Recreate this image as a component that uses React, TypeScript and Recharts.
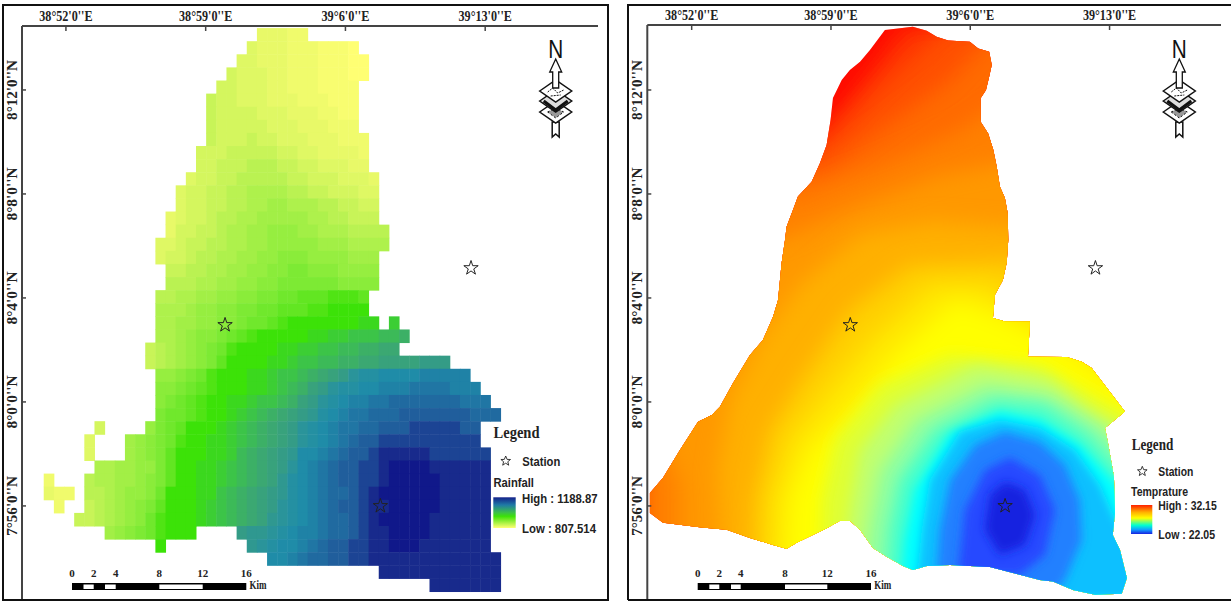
import { ScatterChart, Scatter, XAxis, YAxis, ZAxis } from "recharts";

const lonTicks = [0, 7, 14, 21];
const lonLabels = ["38°52'0''E", "38°59'0''E", "39°6'0''E", "39°13'0''E"];
const latTicks = [0, 4, 8, 12, 16];
const latLabels = ["7°56'0''N", "8°0'0''N", "8°4'0''N", "8°8'0''N", "8°12'0''N"];

// minutes past 38°52' E and 7°56' N
const stations = [
  { lon: 7.97, lat: 6.96 },
  { lon: 20.29, lat: 9.15 },
  { lon: 15.75, lat: 0 },
];

// rainfall raster, one character per cell (0 = low .. z = high), "." = no data
const rainfallRows = [
  ".....................33322",
  "....................43332221110",
  "...................4433322211100",
  "..................54443322211100",
  ".................55444332221111",
  "................655444333222111",
  "................655554443332211",
  "................655555444333222",
  "................6555655444333222",
  "...............55566666554433332",
  "...............55666777665544433",
  "..............4556677777665554443",
  ".............45566778888776655544",
  ".............45566778899888776655",
  "............345567788999998877666",
  "............3556678899aaa998887777",
  "...........44566778899aaaaa9998888",
  "...........4556778899aabbbaaaa999",
  "............66778899aabbccbbbaaaa",
  "............7778899aabbccccccbbbb",
  "...........778899aabbccddeeefffe",
  "...........8889aabbccddeeeffgggg",
  "...........8899aabbcddefggggggghh.i",
  "...........889abbcdefggggghhiijjjkkl",
  "..........6789abcdfgggghhiijjkkllmm",
  "..........6789abcegggghhijjkkllmmnnnnooo",
  "...........aabcdfggghhijjklmnoqrrssssttttt",
  "...........bbcdefggghhijklnoqrrsstttuuuuttt",
  "...........bcdefgghhijjklnoqrsttuuvvvvvvvuuu",
  "...........cddefgghijklmnoprstuuvvvwwwwwwwvvv",
  ".....5....acdeggghijklmnoqrstuuvvwwwxxxxxww",
  "....4...9abcdfgghhijklmnoqrstuvwwxxxxxxxxxx",
  "....4...9abceggghhiklmnopsstuvwwxyyyyyxxxxxx",
  ".....8899aacegghhijklmnoqstuvwwxxyzzzzyyyyyy",
  "2...78899abcegghhijklmnprstuvwwxxyzzzzzyyyyy",
  "322.7789aabdggghhjklmnoprstuvvwxyzzzzzzyyyyy",
  ".2..6789abceggghijklmnoqrstuvwwxyyzzzzzyyyyy",
  "...66789abdfggghijklmnpqrstuvvwxyzzzzzyyyyyy",
  "......9abcdfggg....oppqrsttuvvwxyyzzzzyyyyyy",
  "...........g........pqrsstuvwwxxyyzzzyyyyyyy",
  "......................sstuvvwwxxyyyyyyyyyyyyy",
  ".................................yyyyyyyyyyyy",
  "......................................yyyyyyy",
];

const rainfallRamp = [
  "#ffff73", "#f8fd70", "#f0fb6c", "#e8f968", "#dff864", "#d4f65e", "#c8f458", "#baf252", "#aef14c",
  "#a2ef46", "#96ee40", "#8aec3a", "#7dea34", "#70e82c", "#62e622", "#50e414", "#3ce208", "#3bd81e",
  "#3cce34", "#3cc448", "#3cba58", "#3cb066", "#3ba872", "#38a27c", "#349c86", "#2f9890", "#2a949a",
  "#2490a2", "#1f8ca8", "#1f82a6", "#2076a4", "#206aa0", "#205e9c", "#1c4494", "#182a8c", "#10188a",
];

// temperature surface: study area outline and nested isotherm regions
const outline = [
  [9.71, 18.31], [11.11, 18.43], [11.81, 18.28], [12.31, 18.05], [12.89, 17.9], [13.98, 17.86], [14.4, 17.6],
  [14.95, 17.47], [15.08, 16.96], [14.95, 16.51], [14.79, 16.0], [14.52, 15.68], [14.52, 14.78], [14.9, 14.33],
  [15.16, 13.69], [15.33, 13.05], [15.49, 12.28], [15.74, 11.85], [15.88, 11.26], [15.91, 10.23], [15.83, 9.35],
  [15.64, 8.69], [15.24, 8.12], [15.14, 7.23], [15.74, 7.09], [17.0, 7.09], [16.9, 5.74], [18.84, 5.73],
  [19.6, 5.55], [20.1, 5.31], [21.77, 3.63], [20.77, 3.0], [20.92, 2.42], [21.22, 1.12], [21.27, -0.27],
  [21.16, -1.12], [21.52, -1.69], [21.87, -2.77], [21.61, -3.38], [20.27, -3.42], [19.16, -3.23], [18.16, -2.91],
  [17.5, -2.85], [14.99, -2.35], [12.98, -2.27], [11.81, -2.31], [11.12, -2.46], [10.62, -2.31], [9.8, -1.95],
  [9.11, -1.62], [8.46, -0.92], [7.95, -0.57], [7.45, -0.57], [6.78, -0.86], [5.28, -1.42], [4.77, -1.65],
  [4.09, -1.5], [2.93, -1.23], [1.76, -0.92], [0.5, -0.83], [-1.44, -0.65], [-2.1, -0.27], [-2.1, 0.5],
  [-1.44, 1.08], [-0.59, 2.15], [0.32, 3.24], [1.01, 3.5], [1.42, 3.82], [2.08, 4.73], [2.93, 5.81],
  [3.58, 6.38], [4.09, 7.28], [4.34, 7.92], [4.52, 9.35], [4.69, 10.23], [4.77, 10.74], [5.09, 11.38],
  [5.34, 11.9], [6.03, 12.47], [6.45, 13.19], [6.78, 13.88], [6.98, 14.85], [7.1, 15.69], [7.54, 16.38],
  [7.95, 16.77], [8.46, 17.09], [8.96, 17.54],
];

const isothermColors = [
  "#ff3000", "#ff5000", "#ff6a00", "#ff8000", "#ff9800", "#ffb000", "#ffd000", "#ffe800", "#ffff00",
  "#e0ff30", "#c0ff70", "#90ffa0", "#40ffd0", "#00ffff", "#10c0ff", "#2080ff", "#2848ff", "#1820e0",
];

const isotherms = [
  [[5.44, 13.69], [7.45, 15.23], [9.21, 16.96], [10.72, 18.5], [26.6, 18.5], [26.6, -3.58], [-2.23, -3.58], [-2.23, 13.69]],
  [[4.44, 12.92], [7.05, 14.08], [8.96, 15.62], [11.47, 17.54], [12.98, 18.5], [26.6, 18.5], [26.6, -3.58], [-2.23, -3.58], [-2.23, 12.92]],
  [[6.7, 12.92], [9.46, 14.46], [12.98, 16.38], [15.49, 18.5], [26.6, 18.5], [26.6, -3.58], [-2.23, -3.58], [-2.23, 12.92]],
  [[5.44, 11.96], [9.46, 13.12], [13.48, 14.46], [16.5, 16.0], [26.6, 16.0], [26.6, -3.58], [-2.23, -3.58], [-2.23, 11.96]],
  [[-0.59, -3.58], [-0.59, 0.8], [-1.49, 2.54], [-2.23, 4.08], [-2.23, 10.15], [4.44, 10.23], [8.46, 11.58], [12.48, 12.73], [16.5, 13.31], [26.6, 13.31], [26.6, -3.58]],
  [[1.67, -3.58], [1.32, 1.38], [1.92, 4.08], [3.43, 6.38], [5.44, 8.5], [8.46, 10.42], [11.97, 10.92], [16.5, 10.69], [26.6, 10.69], [26.6, -3.58]],
  [[3.03, -3.58], [3.18, 0.23], [3.93, 2.92], [5.69, 5.04], [7.95, 7.54], [10.97, 9.27], [15.49, 9.38], [26.6, 9.38], [26.6, -3.58]],
  [[3.93, -3.58], [4.04, 0.23], [4.94, 2.54], [6.7, 4.27], [8.96, 6.38], [11.97, 8.5], [14.99, 8.5], [17, 7.15], [26.6, 6.38], [26.6, -3.58]],
  [[4.69, -3.58], [4.94, 0.23], [5.94, 2.15], [7.95, 3.69], [10.11, 5.73], [13.23, 7.92], [15.49, 7.35], [18.5, 6.19], [21.02, 4.85], [26.6, 3.0], [26.6, -3.58]],
  [[6.44, -3.58], [6.54, 0.23], [7.2, 2.54], [9.46, 4.65], [13.0, 5.8], [17.5, 5.4], [20.52, 4.08], [26.6, 1.5], [26.6, -3.58]],
  [[7.6, -3.58], [7.95, -0.15], [8.46, 2.15], [10.22, 3.88], [14.24, 5.42], [17.9, 4.92], [20.2, 3.5], [26.6, 0.5], [26.6, -3.58]],
  [[8.46, -3.58], [8.96, -0.54], [9.46, 1.38], [11.22, 3.31], [14.74, 4.65], [18, 4.27], [20.52, 3.12], [26.6, -0.5], [26.6, -3.58]],
  [[9.71, -3.58], [9.96, -0.92], [10.47, 1.0], [12.22, 2.92], [15.24, 4.08], [17.75, 3.88], [20.0, 2.73], [21.77, 1.19], [26.6, -1.0], [26.6, -3.58]],
  [[10.47, -3.58], [10.72, -1.31], [11.22, 0.62], [12.98, 2.81], [15.49, 3.62], [17.5, 3.31], [19.5, 2.35], [21.27, 0.88], [26.6, -1.5], [26.6, -3.58]],
  [[11.22, -3.58], [11.57, -0.92], [11.97, 1.0], [13.48, 2.85], [15.49, 3.31], [17.5, 3.0], [19.26, 2.15], [20.52, 0.81], [21.3, -0.54], [26.6, -3.0], [26.6, -3.58]],
  [[12.22, -3.58], [12.47, -0.92], [12.98, 1.0], [14.24, 2.35], [15.74, 2.85], [17.5, 2.46], [18.76, 1.58], [19.5, 0.23], [19.6, -1.31], [18.76, -2.85], [18.0, -3.58]],
  [[13.38, -2.65], [13.73, -0.15], [14.74, 1.38], [16.0, 1.85], [17.5, 1.19], [18.25, -0.15], [17.75, -1.88], [16.5, -2.65]],
  [[14.74, -0.92], [14.99, 0.42], [15.74, 0.92], [16.75, 0.62], [17.25, -0.35], [16.75, -1.5], [15.49, -1.88]],
];

const CELL_LON = 0.5085;
const CELL_LAT = 0.504;
const CELL_ORIGIN_LON = -1.1;
const CELL_ORIGIN_LAT = 18.37;
const CELL_W = 10.15;
const CELL_H = 13.1;

const rainfallCells = rainfallRows.flatMap((row, r) =>
  row.split("").flatMap((ch, c) =>
    ch === "."
      ? []
      : [{
          lon: CELL_ORIGIN_LON + (c + 0.5) * CELL_LON,
          lat: CELL_ORIGIN_LAT - (r + 0.5) * CELL_LAT,
          level: parseInt(ch, 36),
        }],
  ),
);

const toPoints = (ring: number[][]) => ring.map(([lon, lat]) => ({ lon, lat }));
const pathOf = (points: { x: number; y: number }[]) =>
  "M" + points.map((p) => `${p.x},${p.y}`).join("L") + "Z";

const SERIF = "'Liberation Serif', serif";
const SANS = "'Liberation Sans', sans-serif";
const FRAME = "#444";

function TopTick({ x, y, payload }: any) {
  const label = lonLabels[lonTicks.indexOf(payload.value)];
  return (
    <g>
      <line x1={x} x2={x} y1={y} y2={y + 5} stroke={FRAME} strokeWidth={1.5} />
      <text x={x} y={y - 5.5} textAnchor="middle" fontFamily={SERIF} fontWeight="bold" fontSize={15} fill="#222"
        textLength={label.length * 5.33} lengthAdjust="spacingAndGlyphs">
        {label}
      </text>
    </g>
  );
}

function LeftTick({ x, y, payload }: any) {
  const label = latLabels[latTicks.indexOf(payload.value)];
  return (
    <g>
      <line x1={x} x2={x + 4} y1={y} y2={y} stroke={FRAME} strokeWidth={1.5} />
      <text x={x - 5} y={y} transform={`rotate(-90 ${x - 5} ${y})`} textAnchor="middle" fontFamily={SERIF}
        fontWeight="bold" fontSize={14.5} fill="#222" textLength={label.length * 6.65} lengthAdjust="spacingAndGlyphs">
        {label}
      </text>
    </g>
  );
}

const BottomTick = ({ x, y }: any) => <line x1={x} x2={x} y1={y} y2={y - 5} stroke={FRAME} strokeWidth={1.5} />;
const RightTick = ({ x, y }: any) => <line x1={x} x2={x - 5} y1={y} y2={y} stroke={FRAME} strokeWidth={1.5} />;

function RainCell({ cx, cy, payload }: any) {
  return (
    <rect x={cx - CELL_W / 2 - 0.25} y={cy - CELL_H / 2 - 0.25} width={CELL_W + 0.5} height={CELL_H + 0.5}
      fill={rainfallRamp[payload.level]} />
  );
}

const noShape = () => null;

function mapAxes(lonDomain: number[], latDomain: number[], topHeight: number, leftWidth: number) {
  const common = { type: "number" as const, interval: 0 as const, allowDataOverflow: true, tickLine: false, tickSize: 0, tickMargin: 0 };
  return (
    <>
      <XAxis xAxisId="top" orientation="top" dataKey="lon" domain={lonDomain} ticks={lonTicks} height={topHeight}
        tick={TopTick} axisLine={{ stroke: FRAME, strokeWidth: 2 }} {...common} />
      <XAxis xAxisId="bottom" orientation="bottom" dataKey="lon" domain={lonDomain} ticks={lonTicks} height={0}
        tick={BottomTick} axisLine={{ stroke: "#222", strokeWidth: 2 }} {...common} />
      <YAxis yAxisId="left" orientation="left" dataKey="lat" domain={latDomain} ticks={latTicks} width={leftWidth}
        tick={LeftTick} axisLine={{ stroke: FRAME, strokeWidth: 2 }} {...common} />
      <YAxis yAxisId="right" orientation="right" dataKey="lat" domain={latDomain} ticks={latTicks} width={0}
        tick={RightTick} axisLine={{ stroke: "#777", strokeWidth: 2 }} {...common} />
      <ZAxis range={[48, 48]} />
      <Scatter xAxisId="bottom" yAxisId="right" data={[]} shape={noShape} isAnimationActive={false} />
    </>
  );
}

const stationSeries = (
  <Scatter xAxisId="top" yAxisId="left" data={stations} shape="star" fill="none" stroke="#222" strokeWidth={1}
    isAnimationActive={false} />
);

function ScaleBar({ xs, labels, kimX }: { xs: number[]; labels: string[]; kimX: number }) {
  return (
    <g>
      <rect x={xs[0]} y={583} width={xs[7] - xs[0]} height={7} fill="#000" />
      <rect x={xs[1]} y={584.5} width={xs[2] - xs[1]} height={4.5} fill="#fff" />
      <rect x={xs[3]} y={584.5} width={xs[4] - xs[3]} height={4.5} fill="#fff" />
      <rect x={xs[5]} y={584.5} width={xs[6] - xs[5]} height={4.5} fill="#fff" />
      {labels.map((l, i) => (
        <text key={l} x={[xs[0], xs[2], xs[4], xs[5], xs[6], xs[7]][i]} y={577} textAnchor="middle"
          fontFamily={SERIF} fontWeight="bold" fontSize={11} fill="#222">
          {l}
        </text>
      ))}
      <text x={kimX} y={589} fontFamily={SERIF} fontWeight="bold" fontSize={13} fill="#222" textLength={17}
        lengthAdjust="spacingAndGlyphs">
        Kim
      </text>
    </g>
  );
}

function NorthArrow({ cx }: { cx: number }) {
  const diamond = (cy: number) => `M${cx - 16},${cy}L${cx},${cy - 11}L${cx + 16},${cy}L${cx},${cy + 11}Z`;
  return (
    <g stroke="#111" strokeWidth={1.5} fill="#fff">
      <text x={cx} y={58} textAnchor="middle" fontFamily={SANS} fontSize={25} fill="#111" stroke="none"
        textLength={15} lengthAdjust="spacingAndGlyphs">
        N
      </text>
      <path d={`M${cx - 3.5},137L${cx - 3.5},122L${cx + 3.5},122L${cx + 3.5},137L${cx},134Z`} />
      <path d={diamond(112)} />
      <path d={`M${cx - 8},112L${cx},108L${cx + 8},112L${cx},118Z`} fill="#999" strokeDasharray="2 2" strokeWidth={1} />
      <path d={diamond(101)} fill="#ddd" />
      <path d={`M${cx - 12},101L${cx},110L${cx + 12},101`} fill="none" strokeWidth={3} />
      <path d={diamond(91)} />
      <path d={`M${cx - 8},92L${cx - 3},88L${cx + 2},93L${cx + 8},90M${cx - 5},96L${cx + 5},95`} fill="none" strokeWidth={1} strokeDasharray="2 1" />
      <path d={`M${cx},59L${cx + 6},72L${cx + 3},72L${cx + 3},88L${cx - 3},88L${cx - 3},72L${cx - 6},72Z`} strokeWidth={1.3} />
    </g>
  );
}

function LegendText({ x, y, w, children, serif, size }: any) {
  return (
    <text x={x} y={y} fontFamily={serif ? SERIF : SANS} fontWeight={serif ? "bold" : "600"} fontSize={size} fill="#222"
      textLength={w} lengthAdjust="spacingAndGlyphs">
      {children}
    </text>
  );
}

function StarMark({ x, y }: { x: number; y: number }) {
  const pts = [[0, -5], [1.4, -1.6], [4.8, -1.5], [2.1, 0.7], [3, 4.2], [0, 2.2], [-3, 4.2], [-2.1, 0.7], [-4.8, -1.5], [-1.4, -1.6]];
  return <polygon points={pts.map(([a, b]) => `${x + a},${y + b}`).join(" ")} fill="none" stroke="#222" strokeWidth={0.9} />;
}

const softFilter = (i: number) => (i < 9 ? "url(#softWide)" : i < 13 ? "url(#softMid)" : "url(#softNarrow)");

export default function App() {
  return (
    <div style={{ position: "absolute", left: 0, top: 0, width: 1231, height: 605, background: "#fff", overflow: "hidden" }}>
      <div style={{ position: "absolute", left: 0, top: 0 }}>
        <ScatterChart width={610} height={605} margin={{ top: 5, right: 12, bottom: 6, left: 0 }}>
          {mapAxes([-2.2, 26.65], [-3.58, 18.46], 21, 22)}
          <Scatter xAxisId="top" yAxisId="left" data={rainfallCells} shape={RainCell} isAnimationActive={false} />
          {stationSeries}
        </ScatterChart>
      </div>

      <div style={{ position: "absolute", left: 628, top: 0 }}>
        <ScatterChart width={603} height={605} margin={{ top: 5, right: 10, bottom: 6, left: 0 }}>
          <defs>
            <filter id="softWide" filterUnits="userSpaceOnUse" x={-50} y={-50} width={720} height={720}>
              <feGaussianBlur stdDeviation={11} />
            </filter>
            <filter id="softMid" filterUnits="userSpaceOnUse" x={-50} y={-50} width={720} height={720}>
              <feGaussianBlur stdDeviation={8} />
            </filter>
            <filter id="softNarrow" filterUnits="userSpaceOnUse" x={-50} y={-50} width={720} height={720}>
              <feGaussianBlur stdDeviation={5} />
            </filter>
          </defs>
          {mapAxes([-2.23, 26.6], [-3.58, 18.5], 20, 19.3)}
          <Scatter xAxisId="top" yAxisId="left" data={toPoints(outline)} shape={noShape} isAnimationActive={false}
            line={(p: any) => (
              <g>
                <defs>
                  <clipPath id="studyArea">
                    <path d={pathOf(p.points)} />
                  </clipPath>
                </defs>
                <path d={pathOf(p.points)} fill="#ff0800" />
              </g>
            )}
          />
          {isotherms.map((ring, i) => (
            <Scatter key={i} xAxisId="top" yAxisId="left" data={toPoints(ring)} shape={noShape} isAnimationActive={false}
              line={(p: any) => (
                <g clipPath="url(#studyArea)">
                  <path d={pathOf(p.points)} fill={isothermColors[i]} filter={softFilter(i)} />
                </g>
              )}
            />
          ))}
          {stationSeries}
        </ScatterChart>
      </div>

      <svg width={1231} height={605} style={{ position: "absolute", left: 0, top: 0, pointerEvents: "none" }}>
        <defs>
          <linearGradient id="rainRamp" x1="0" y1="0" x2="0" y2="1">
            <stop offset="0%" stopColor="#14208a" />
            <stop offset="25%" stopColor="#1f7aa6" />
            <stop offset="50%" stopColor="#3cc048" />
            <stop offset="62%" stopColor="#3ce208" />
            <stop offset="100%" stopColor="#ffff73" />
          </linearGradient>
          <linearGradient id="tempRamp" x1="0" y1="0" x2="0" y2="1">
            <stop offset="0%" stopColor="#ff2000" />
            <stop offset="25%" stopColor="#ffb000" />
            <stop offset="45%" stopColor="#ffff00" />
            <stop offset="70%" stopColor="#00ffd0" />
            <stop offset="85%" stopColor="#10a0ff" />
            <stop offset="100%" stopColor="#1820e0" />
          </linearGradient>
        </defs>
        <rect x={3} y={5} width={605} height={595} fill="none" stroke="#111" strokeWidth={2} />
        <path d="M628,600V5H1231M628,600H1231" fill="none" stroke="#111" strokeWidth={2} />

        <NorthArrow cx={555.7} />
        <NorthArrow cx={1179.3} />
        <ScaleBar xs={[72, 83.5, 93.7, 105, 115.7, 159.3, 202.7, 246.3]} labels={["0", "2", "4", "8", "12", "16"]} kimX={249.5} />
        <ScaleBar xs={[697.7, 709.3, 719.3, 731, 740.7, 785, 827.3, 871]} labels={["0", "2", "4", "8", "12", "16"]} kimX={874.3} />

        <LegendText x={493.5} y={438} w={46} serif size={17}>Legend</LegendText>
        <StarMark x={505.7} y={461} />
        <LegendText x={522.3} y={465.5} w={38} size={13}>Station</LegendText>
        <LegendText x={493.5} y={487} w={40.5} size={13}>Rainfall</LegendText>
        <rect x={493.3} y={497.3} width={22.4} height={30.7} fill="url(#rainRamp)" />
        <LegendText x={522} y={502.7} w={75.5} size={13.5}>High : 1188.87</LegendText>
        <LegendText x={522} y={533} w={74} size={13.5}>Low : 807.514</LegendText>

        <LegendText x={1131.7} y={450} w={41.6} serif size={16}>Legend</LegendText>
        <StarMark x={1142.3} y={471.3} />
        <LegendText x={1158.3} y={476} w={35} size={12.5}>Station</LegendText>
        <LegendText x={1131} y={496} w={57} size={12.5}>Temprature</LegendText>
        <rect x={1131} y={505} width={21.3} height={29} fill="url(#tempRamp)" />
        <LegendText x={1158.3} y={510} w={58.4} size={13}>High : 32.15</LegendText>
        <LegendText x={1158.3} y={539} w={56.7} size={13}>Low : 22.05</LegendText>
      </svg>
    </div>
  );
}
